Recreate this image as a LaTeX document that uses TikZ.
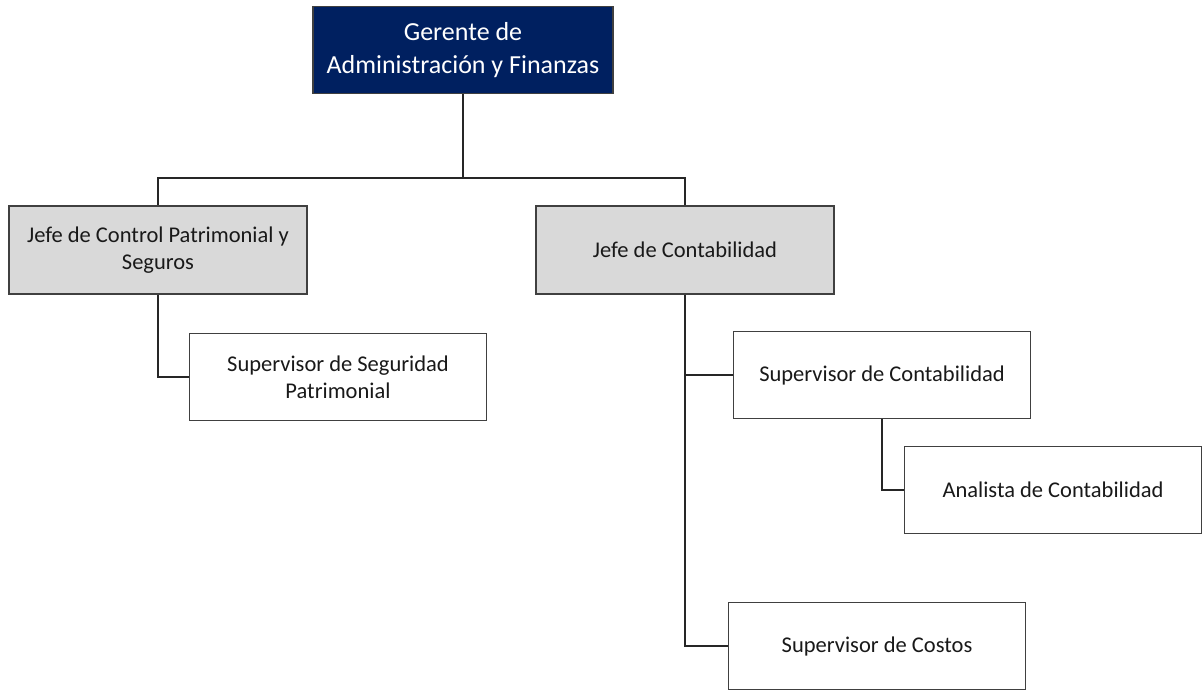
\documentclass[tikz,border=0pt]{standalone}
\usepackage{fontspec}
\setmainfont{Carlito}
\usetikzlibrary{positioning}
\definecolor{navy}{HTML}{002060}
\definecolor{jgray}{HTML}{D9D9D9}
\tikzset{
  gbox/.style={rectangle,draw=black!75,line width=1.1pt,fill=navy,text=white,inner sep=0pt,minimum width=7.5cm,minimum height=2.18cm,align=center,font=\fontsize{18.5}{23}\selectfont},
  jbox/.style={rectangle,draw=black!75,line width=1.1pt,fill=jgray,text=black!90,inner sep=0pt,minimum width=7.45cm,minimum height=2.2cm,align=center,font=\fontsize{16}{19}\selectfont},
  sbox/.style={rectangle,draw=black!75,line width=1.1pt,fill=white,text=black!90,inner sep=0pt,minimum width=7.42cm,minimum height=2.18cm,align=center,font=\fontsize{16}{19}\selectfont},
  ln/.style={line width=1.1pt,draw=black!85}
}
\begin{document}
\begin{tikzpicture}[x=0.025cm,y=-0.025cm]
\useasboundingbox (0,0) rectangle (1203,690);
\node[gbox] (ger)  at (463,50)   {Gerente de\\Administración y Finanzas};
\node[jbox] (jcp)  at (158,250)  {Jefe de Control Patrimonial y\\Seguros};
\node[jbox] (jcon) at (685,250)  {Jefe de Contabilidad};
\node[sbox] (sseg) at (338,377)  {Supervisor de Seguridad\\Patrimonial};
\node[sbox] (scon) at (882,375)  {Supervisor de Contabilidad};
\node[sbox] (acon) at (1053,490) {Analista de Contabilidad};
\node[sbox] (scos) at (877,646)  {Supervisor de Costos};
\coordinate (bus) at (463,178);
\draw[ln] (ger.south) -- (bus);
\draw[ln] (bus) -| (jcp.north);
\draw[ln] (bus) -| (jcon.north);
\draw[ln] (jcp.south) |- (sseg.west);
\draw[ln] (jcon.south) |- (scon.west);
\draw[ln] (jcon.south) |- (scos.west);
\draw[ln] (scon.south) |- (acon.west);
\end{tikzpicture}
\end{document}
